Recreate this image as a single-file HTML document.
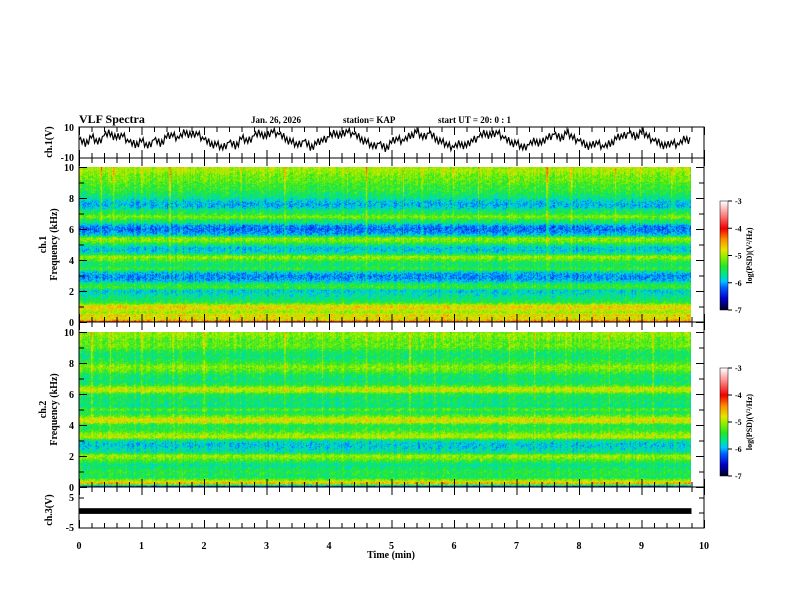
<!DOCTYPE html>
<html><head><meta charset="utf-8">
<style>
body{margin:0;background:#fff;}
#wrap{position:relative;width:792px;height:612px;overflow:hidden;background:#fff;font-family:"Liberation Serif",serif;font-weight:bold;}
canvas{position:absolute;}
svg{position:absolute;left:0;top:0;}
text{font-family:"Liberation Serif",serif;font-weight:bold;fill:#000;}
</style></head>
<body>
<div id="wrap">
<canvas id="spec1" width="612" height="155" style="left:79px;top:167px"></canvas>
<canvas id="spec2" width="612" height="155" style="left:79px;top:332px"></canvas>
<canvas id="cb1" width="8" height="109" style="left:720px;top:201px"></canvas>
<canvas id="cb2" width="8" height="108" style="left:720px;top:368px"></canvas>
<svg id="svg" width="792" height="612"></svg>
</div>
<script>
// ---- data ----
const timeMax = 9.8;
const freqStep = 0.2;
const ch1Profile = [-4.2,-4.8,-4.6,-5.0,-4.7,-4.6,-5.3,-5.5,-5.6,-5.7,-5.8,-5.3,-5.4,-5.8,-6.0,-6.0,-5.8,-5.3,-5.5,-5.5,-5.2,-4.9,-5.6,-5.8,-5.8,-5.5,-5.1,-5.0,-5.8,-6.0,-6.1,-6.0,-5.6,-5.4,-5.0,-5.4,-5.5,-5.8,-5.9,-5.8,-5.6,-5.5,-5.4,-5.3,-5.3,-5.2,-5.1,-5.1,-5.0,-4.9,-4.9];
const ch2Profile = [-6.3,-4.4,-5.0,-5.5,-5.4,-5.4,-5.5,-5.6,-5.4,-5.1,-4.9,-5.6,-5.7,-5.8,-5.8,-5.6,-4.8,-5.0,-5.3,-5.4,-5.4,-4.7,-4.8,-5.2,-5.5,-5.2,-5.6,-5.5,-5.5,-5.5,-5.4,-4.8,-4.9,-5.4,-5.5,-5.5,-5.5,-5.3,-5.1,-5.0,-5.3,-5.4,-5.5,-5.5,-5.4,-5.2,-5.1,-5.2,-5.1,-5.0,-5.0];
const ch1SpikeTimes = [0.35,0.55,1.0,1.45,2.1,2.6,3.3,4.3,4.6,5.2,5.5,6.0,6.4,6.9,7.2,7.5,7.9,8.6,9.0,9.5];
const ch1SpikeAmps  = [0.5,0.4,0.3,0.5,0.3,0.4,0.5,0.4,0.7,0.4,0.3,0.4,0.5,0.4,0.3,0.6,0.4,0.4,0.3,0.4];
const ch2SpikeTimes = [0.2,0.5,1.0,1.5,2.0,2.5,3.3,3.9,4.6,5.3,5.7,6.3,6.9,7.3,7.8,8.5,9.2];
const ch2SpikeAmps  = [0.5,0.4,0.4,0.3,0.4,0.3,0.5,0.4,0.4,0.5,0.3,0.4,0.4,0.4,0.3,0.4,0.3];
const ch1Wave = [1,-2,3,-1,4,6,2,5,-1,-3,0,-4,1,-2,3,5,2,7,4,6,1,-2,-3,-5,-1,-4,2,0,4,6,3,8,5,2,-1,-3,0,-5,-2,1,3,6,4,8,5,2,-1,-4,-2,-6,-1,2,0,4,7,3,6,2,-1,-3,-5,-2,-4,1,3,6,4,7,2,-1,-2,-5,-3,0,-2,3,5,2,6,3,0,-3,-4,-1,-5,-2,2,4,6,3,7,4,0,-2,-4,-1,-3,2,0];
const ch1Jitter = [0,3,-2,4,-3,2,-4,3,-1,4,-3,2,-2,3,-4,1];
const ch3Lo = [-0.3]; const ch3Hi = [1.6];
const xTicks = [0,1,2,3,4,5,6,7,8,9,10];
const fTicks = [0,2,4,6,8,10];
const cbTicks = [-3,-4,-5,-6,-7];

// ---- scales ----
const X0=79,X1=704;
const xs = t => X0 + (t/10)*(X1-X0);
const ns='http://www.w3.org/2000/svg';
const svg=document.getElementById('svg');
function el(tag,attrs,name,txt){const e=document.createElementNS(ns,tag);for(const k in attrs)e.setAttribute(k,attrs[k]);


if(txt!==undefined)e.textContent=txt;svg.appendChild(e);return e;}

const stops=[[-7,[0,0,40]],[-6.6,[0,0,200]],[-6.2,[0,90,255]],[-5.95,[0,200,255]],[-5.7,[0,230,140]],[-5.4,[40,230,40]],[-5.1,[130,240,0]],[-4.8,[230,230,0]],[-4.4,[255,140,0]],[-4.0,[240,0,0]],[-3.5,[255,130,130]],[-3,[255,255,255]]];
function cmap(v){if(v<=stops[0][0])return stops[0][1];for(let i=1;i<stops.length;i++){if(v<=stops[i][0]){const a=stops[i-1],b=stops[i];const f=(v-a[0])/(b[0]-a[0]);return [0,1,2].map(k=>Math.round(a[1][k]+f*(b[1][k]-a[1][k])));}}return stops[stops.length-1][1];}
// deterministic texture (visual speckle only)
function tex(x,y){let h=(x*374761393+y*668265263)>>>0;h=((h^(h>>>13))*1274126177)>>>0;return ((h&1023)/1023-0.5);}

function drawSpec(id,prof,spT,spA){
  const c=document.getElementById(id),ctx=c.getContext('2d');const W=c.width,H=c.height;
  const img=ctx.createImageData(W,H);
  for(let y=0;y<H;y++){
    const f=10*(1-y/(H-1));const fi=f/freqStep;const i0=Math.floor(fi),i1=Math.min(i0+1,prof.length-1);
    const base=prof[i0]+(prof[i1]-prof[i0])*(fi-i0);
    for(let x=0;x<W;x++){
      const t=x/(W-1)*timeMax;let v=base+0.55*tex(x,y)+0.25*tex(x,7);
      for(let k=0;k<spT.length;k++){const d=Math.abs(t-spT[k]);if(d<0.012){v+=spA[k]*Math.max(0,(f-1)/9);}}
      const col=cmap(v);const p=(y*W+x)*4;img.data[p]=col[0];img.data[p+1]=col[1];img.data[p+2]=col[2];img.data[p+3]=255;
    }
  }
  ctx.putImageData(img,0,0);
}
drawSpec('spec1',ch1Profile,ch1SpikeTimes,ch1SpikeAmps);
drawSpec('spec2',ch2Profile,ch2SpikeTimes,ch2SpikeAmps);
function drawCb(id){const c=document.getElementById(id),ctx=c.getContext('2d');for(let y=0;y<c.height;y++){const v=-3-4*y/(c.height-1);const col=cmap(v);ctx.fillStyle=`rgb(${col})`;ctx.fillRect(0,y,c.width,1);}}
drawCb('cb1');drawCb('cb2');

const panels=[{top:127,bot:158,name:'ch1-panel'},{top:158,bot:322,name:'ch1-spec-panel'},{top:322,bot:487,name:'ch2-spec-panel'},{top:487,bot:528,name:'ch3-panel'}];
panels.forEach(p=>{
  el('rect',{x:X0,y:p.top,width:X1-X0,height:p.bot-p.top,fill:'none',stroke:'#000','stroke-width':1},p.name+'-frame');
  for(let t=0;t<=10.001;t+=0.2){const x=xs(t)+0.5;const maj=Math.abs(t-Math.round(t))<0.01;const L=maj?8:5;
    el('line',{x1:x,y1:p.top,x2:x,y2:p.top+L,stroke:'#000'},'x-tick');
    el('line',{x1:x,y1:p.bot,x2:x,y2:p.bot-L,stroke:'#000'},'x-tick');}
});
xTicks.forEach(t=>el('text',{x:xs(t),y:549,'font-size':10,'text-anchor':'middle'},'x-tick-label',String(t)));
el('text',{x:391,y:558,'font-size':10,'text-anchor':'middle'},'x-axis-title','Time  (min)');

// ch1 waveform: coarse values plus fine jitter
const wy=v=>141-v*1.3;
const N=ch1Wave.length;let d='';let first=true;
for(let i=0;i<N-1;i++){for(let s=0;s<4;s++){const fr=s/4;const v=ch1Wave[i]+(ch1Wave[i+1]-ch1Wave[i])*fr+ch1Jitter[(i*4+s)%ch1Jitter.length]*0.8;
  const x=xs((i+fr)*timeMax/(N-1));d+=(first?'M':'L')+x.toFixed(1)+','+wy(v).toFixed(1);first=false;}}
el('path',{d:d,fill:'none',stroke:'#000','stroke-width':1.2},'ch1-waveform');
el('text',{x:74,y:131,'font-size':10,'text-anchor':'end'},'y-tick-label','10');
el('text',{x:74,y:161,'font-size':10,'text-anchor':'end'},'y-tick-label','-10');
el('text',{x:0,y:0,'font-size':10,'text-anchor':'middle',transform:'translate(52,142) rotate(-90)'},'ch1-y-title','ch.1(V)');

[[167,322,'ch.1'],[332,487,'ch.2']].forEach(([t,b,lab])=>{
  const fy=f=>b-(f/10)*(b-t);
  fTicks.forEach(f=>{el('text',{x:74,y:fy(f)+4,'font-size':10,'text-anchor':'end'},'freq-tick-label',String(f));});
  for(let f=0;f<=10;f+=1){const y=fy(f)+0.5;const L=f%2==0?8:5;
    el('line',{x1:X0,y1:y,x2:X0+L,y2:y,stroke:'#000'},'freq-tick');
    el('line',{x1:X1,y1:y,x2:X1-L,y2:y,stroke:'#000'},'freq-tick');}
  el('text',{x:0,y:0,'font-size':10,'text-anchor':'middle',transform:`translate(46,${(t+b)/2}) rotate(-90)`},'freq-y-title-channel',lab);
  el('text',{x:0,y:0,'font-size':10,'text-anchor':'middle',transform:`translate(57,${(t+b)/2}) rotate(-90)`},'freq-y-title','Frequency  (kHz)');
});

[[201,310],[368,476]].forEach(([t,b])=>{
  el('rect',{x:720,y:t,width:8,height:b-t,fill:'none',stroke:'#000','stroke-width':0.5},'colorbar-frame');
  cbTicks.forEach(v=>{const y=t+(-3-v)/4*(b-t);el('line',{x1:728,y1:y,x2:732,y2:y,stroke:'#000'},'colorbar-tick');
    el('text',{x:735,y:y+3,'font-size':8},'colorbar-tick-label',String(v));});
  el('text',{x:0,y:0,'font-size':8,'text-anchor':'middle',transform:`translate(752,${(t+b)/2}) rotate(-90)`},'colorbar-title','log(PSD)(V\u00b2/Hz)');
});

const y3=v=>513-v*3;
el('rect',{x:X0,y:y3(ch3Hi[0]),width:xs(timeMax)-X0,height:y3(ch3Lo[0])-y3(ch3Hi[0]),fill:'#000'},'ch3-signal');
el('text',{x:74,y:501,'font-size':10,'text-anchor':'end'},'y-tick-label','5');
el('text',{x:74,y:531,'font-size':10,'text-anchor':'end'},'y-tick-label','-5');
[498,513,528].forEach(y=>{el('line',{x1:X0,y1:y,x2:X0+5,y2:y,stroke:'#000'},'y-tick');el('line',{x1:X1,y1:y,x2:X1-5,y2:y,stroke:'#000'},'y-tick');});
el('text',{x:0,y:0,'font-size':10,'text-anchor':'middle',transform:'translate(52,510) rotate(-90)'},'ch3-y-title','ch.3(V)');

el('text',{x:79,y:123,'font-size':12},'chart-title','VLF Spectra');
el('text',{x:251,y:123,'font-size':9},'date-label','Jan. 26, 2026');
el('text',{x:343,y:123,'font-size':9},'station-label','station= KAP');
el('text',{x:438,y:123,'font-size':9},'start-time-label','start  UT =   20: 0  : 1');
</script>
</body></html>
